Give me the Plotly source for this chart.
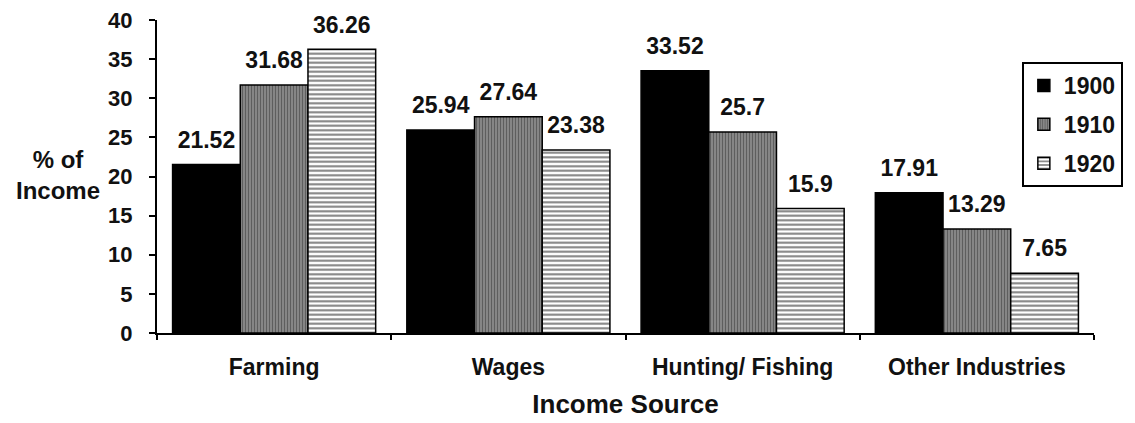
import plotly.graph_objects as go

categories = ["Farming", "Wages", "Hunting/ Fishing", "Other Industries"]
years = ["1900", "1910", "1920"]
values_1900 = [21.52, 25.94, 33.52, 17.91]
values_1910 = [31.68, 27.64, 25.7, 13.29]
values_1920 = [36.26, 23.38, 15.9, 7.65]
y_ticks = [0, 5, 10, 15, 20, 25, 30, 35, 40]

FONT = "Liberation Sans, Arial, sans-serif"
BARGAP = 0.133

series = [
    (years[0], values_1900, dict(color="#000000")),
    (years[1], values_1910, dict(color="#8e8e8e",
                                  pattern=dict(shape="|", fgcolor="#2e2e2e", size=3, solidity=0.45))),
    (years[2], values_1920, dict(color="#ffffff",
                                  pattern=dict(shape="-", fgcolor="#000000", size=4.5, solidity=0.45))),
]

fig = go.Figure()
for name, vals, marker in series:
    marker = dict(marker)
    marker["line"] = dict(color="#000000", width=1.5)
    fig.add_trace(go.Bar(
        x=categories, y=vals, name=name, marker=marker,
        legendgroup=name, hoverinfo="skip",
    ))

# value labels, grouped like the bars
for name, vals, _ in series:
    fig.add_trace(go.Scatter(
        x=categories, y=vals, mode="markers+text",
        text=[str(v) for v in vals], textposition="top center",
        marker=dict(size=16, color="rgba(0,0,0,0)"),
        textfont=dict(family=FONT, size=23, color="#111111", weight="bold"),
        showlegend=False, cliponaxis=False, hoverinfo="skip",
    ))

fig.update_layout(
    width=1135, height=423,
    margin=dict(l=157, r=18, t=20, b=90),
    paper_bgcolor="white", plot_bgcolor="white",
    barmode="group", bargap=BARGAP, bargroupgap=0,
    scattermode="group", scattergap=BARGAP,
    font=dict(family=FONT, color="#111111"),
    showlegend=True,
    legend=dict(
        x=0.923, y=0.866, xanchor="left", yanchor="top",
        bgcolor="white", bordercolor="#000000", borderwidth=2,
        font=dict(family=FONT, size=23, color="#111111", weight="bold"),
        tracegroupgap=6, itemwidth=30,
    ),
    xaxis=dict(
        automargin=False,
        showline=True, linecolor="#000000", linewidth=2,
        ticks="outside", ticklen=5, tickwidth=1.5, tickcolor="#000000",
        tickson="boundaries",
        tickfont=dict(family=FONT, size=23, color="#111111", weight="bold"),
        ticklabelstandoff=12,
        title=dict(text="Income Source", standoff=16,
                   font=dict(family=FONT, size=26, color="#111111", weight="bold")),
        showgrid=False,
    ),
    yaxis=dict(
        automargin=False,
        range=[0, 40], tickvals=y_ticks,
        showline=True, linecolor="#000000", linewidth=2,
        ticks="outside", ticklen=6, tickwidth=1.5, tickcolor="#000000",
        tickfont=dict(family=FONT, size=22, color="#111111", weight="bold"),
        ticklabelstandoff=12,
        showgrid=False, zeroline=False,
    ),
    annotations=[dict(
        text="% of<br>Income", xref="paper", yref="paper",
        x=-0.106, y=0.505, xanchor="center", yanchor="middle",
        showarrow=False, align="center",
        font=dict(family=FONT, size=24, color="#111111", weight="bold"),
    )],
)

fig.write_html("out.html")
